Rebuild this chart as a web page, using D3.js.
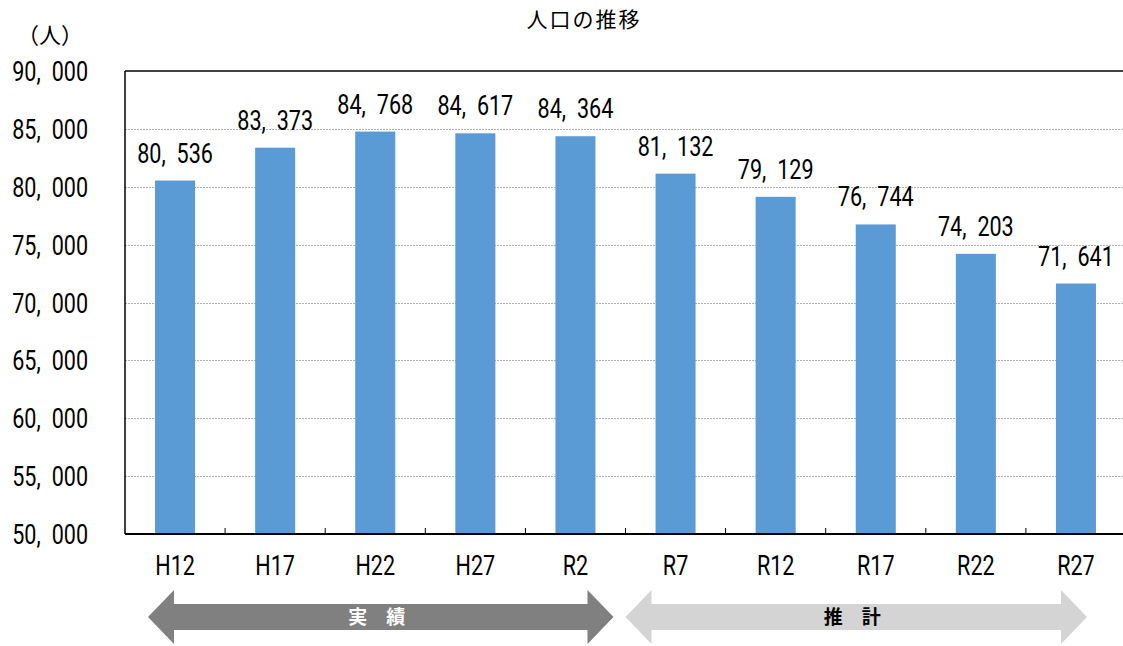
<!DOCTYPE html>
<html>
<head>
<meta charset="utf-8">
<style>
  body { margin: 0; background: white; }
  .num { font-family: Roboto, "DejaVu Sans", sans-serif; font-size: 28px; fill: #000; }
  .jp { font-family: "Noto Sans CJK JP", sans-serif; fill: #000; }
</style>
<script src="https://cdn.jsdelivr.net/npm/d3@7"></script>
</head>
<body>
<svg id="chart"></svg>
<script>
  // data
  const categories = ["H12", "H17", "H22", "H27", "R2", "R7", "R12", "R17", "R22", "R27"];
  const population = [80536, 83373, 84768, 84617, 84364, 81132, 79129, 76744, 74203, 71641];
  const yTicks = [50000, 55000, 60000, 65000, 70000, 75000, 80000, 85000, 90000];
  const periodLabels = ["実　績", "推　計"];
  const periodFrom = ["H12", "R7"];
  const periodTo = ["R2", "R27"];

  const width = 1123, height = 646;
  const margin = { top: 71, left: 125, right: -3, bottom: 112 };
  const plotBottom = height - margin.bottom; // 534
  const plotRight = width - margin.right;
  const squeeze = 0.77; // condensed look for the numbers

  const svg = d3.select("#chart").attr("width", width).attr("height", height);

  const x = d3.scaleBand().domain(categories).range([margin.left, plotRight]);
  const y = d3.scaleLinear().domain([50000, 90000]).range([plotBottom, margin.top]);
  const fmt = d => d3.format(",")(d).replace(",", ",\u2002");

  // gridlines
  svg.append("g").selectAll("line")
    .data(yTicks.filter(t => t > 50000 && t < 90000))
    .enter().append("line")
    .attr("x1", margin.left).attr("x2", plotRight)
    .attr("y1", d => Math.round(y(d)) + 0.5).attr("y2", d => Math.round(y(d)) + 0.5)
    .attr("stroke", "#b0b0b0").attr("stroke-width", 1).attr("stroke-dasharray", "2,1");

  // bars
  const barW = x.bandwidth() * 0.4;
  svg.append("g").selectAll("rect")
    .data(population)
    .enter().append("rect")
    .attr("x", (d, i) => x(categories[i]) + x.bandwidth() / 2 - barW / 2)
    .attr("width", barW)
    .attr("y", d => y(d))
    .attr("height", d => plotBottom - y(d))
    .attr("fill", "#5b9bd5");

  // value labels
  svg.append("g").selectAll("text")
    .data(population)
    .enter().append("text")
    .attr("class", "num")
    .attr("text-anchor", "middle")
    .attr("transform", (d, i) =>
      `translate(${x(categories[i]) + x.bandwidth() / 2},${y(d) - 18}) scale(${squeeze},1)`)
    .text(fmt);

  // frame: top border, left axis
  svg.append("line").attr("x1", margin.left).attr("x2", plotRight)
    .attr("y1", margin.top).attr("y2", margin.top)
    .attr("stroke", "#000").attr("stroke-width", 1.5);
  svg.append("line").attr("x1", margin.left).attr("x2", margin.left)
    .attr("y1", margin.top).attr("y2", plotBottom)
    .attr("stroke", "#000").attr("stroke-width", 1.5);

  // x axis with ticks between categories pointing up
  const xAxis = svg.append("g").attr("transform", `translate(0,${plotBottom})`);
  xAxis.append("line").attr("x1", margin.left).attr("x2", plotRight)
    .attr("y1", 0).attr("y2", 0).attr("stroke", "#000").attr("stroke-width", 2);
  xAxis.selectAll(".tick")
    .data(categories.slice(1))
    .enter().append("line")
    .attr("x1", d => x(d)).attr("x2", d => x(d))
    .attr("y1", 0).attr("y2", -6)
    .attr("stroke", "#000").attr("stroke-width", 1);
  xAxis.selectAll("text")
    .data(categories)
    .enter().append("text")
    .attr("class", "num")
    .attr("text-anchor", "middle")
    .attr("transform", d => `translate(${x(d) + x.bandwidth() / 2},41) scale(${squeeze},1)`)
    .text(d => d);

  // y tick labels
  svg.append("g").selectAll("text")
    .data(yTicks)
    .enter().append("text")
    .attr("class", "num")
    .attr("text-anchor", "end")
    .attr("transform", d => `translate(88,${y(d) + 10}) scale(${squeeze},1)`)
    .text(fmt);

  // title and unit
  svg.append("text").attr("class", "jp")
    .attr("x", 584).attr("y", 27).attr("text-anchor", "middle")
    .style("font-size", "21px").style("letter-spacing", "2px")
    .text("人口の推移");
  svg.append("text").attr("class", "jp")
    .attr("x", 50).attr("y", 43).attr("text-anchor", "middle")
    .style("font-size", "22px")
    .text("（人）");

  // period arrows
  const arrowCY = 617, shaftH = 13, headH = 27, headL = 26;
  const arrowX0 = [x(periodFrom[0]) + 23, x(periodFrom[1])];
  const arrowX1 = [x(periodTo[0]) + x.bandwidth() - 12, x(periodTo[1]) + x.bandwidth() - 39];
  const arrowFill = ["#808080", "#d4d4d4"];
  const textFill = ["#fff", "#000"];

  function arrowPath(x0, x1) {
    const p = d3.path();
    p.moveTo(x0, arrowCY);
    p.lineTo(x0 + headL, arrowCY - headH);
    p.lineTo(x0 + headL, arrowCY - shaftH);
    p.lineTo(x1 - headL, arrowCY - shaftH);
    p.lineTo(x1 - headL, arrowCY - headH);
    p.lineTo(x1, arrowCY);
    p.lineTo(x1 - headL, arrowCY + headH);
    p.lineTo(x1 - headL, arrowCY + shaftH);
    p.lineTo(x0 + headL, arrowCY + shaftH);
    p.lineTo(x0 + headL, arrowCY + headH);
    p.closePath();
    return p.toString();
  }

  periodLabels.forEach((label, i) => {
    svg.append("path").attr("d", arrowPath(arrowX0[i], arrowX1[i])).attr("fill", arrowFill[i]);
    svg.append("text").attr("class", "jp")
      .attr("x", (arrowX0[i] + arrowX1[i]) / 2 - 4).attr("y", arrowCY + 7)
      .attr("text-anchor", "middle")
      .style("font-size", "19px").style("font-weight", "bold")
      .style("fill", textFill[i])
      .text(label);
  });
</script>
</body>
</html>
